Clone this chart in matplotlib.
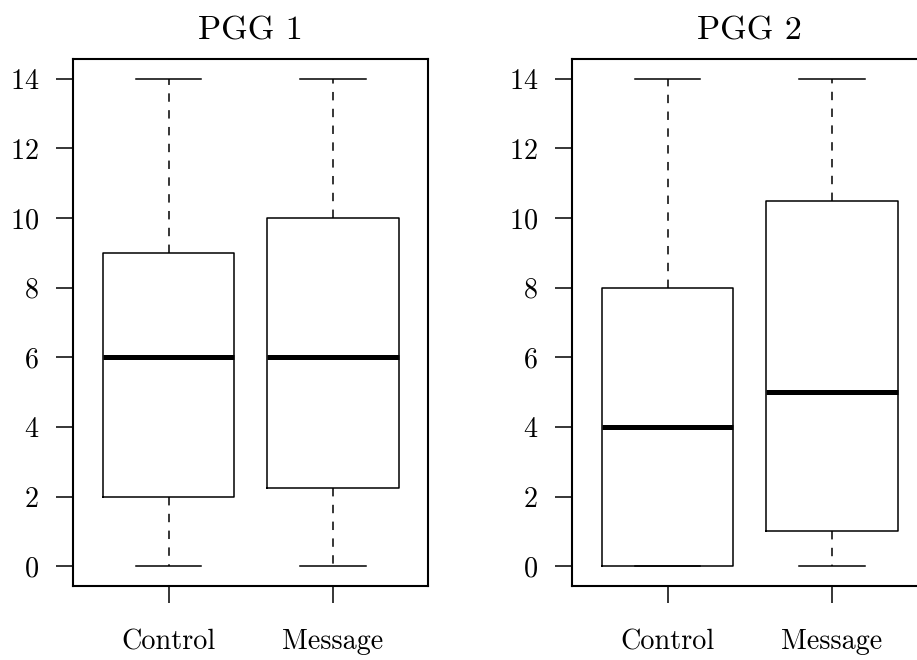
import matplotlib
matplotlib.use('Agg')
import matplotlib.pyplot as plt

plt.rcParams['font.family'] = ['cmr10', 'DejaVu Serif']
plt.rcParams['axes.formatter.use_mathtext'] = True

groups = ['Control', 'Message']
titles = ['PGG 1', 'PGG 2']

# five-number summaries
pgg1_low = [0, 0]
pgg1_q1 = [2, 2.25]
pgg1_med = [6, 6]
pgg1_q3 = [9, 10]
pgg1_high = [14, 14]

pgg2_low = [0, 0]
pgg2_q1 = [0, 1]
pgg2_med = [4, 5]
pgg2_q3 = [8, 10.5]
pgg2_high = [14, 14]

yticks = [0, 2, 4, 6, 8, 10, 12, 14]


def make_stats(low, q1, med, q3, high):
    stats = []
    for i in range(len(groups)):
        stats.append({'label': groups[i], 'whislo': low[i], 'q1': q1[i],
                      'med': med[i], 'q3': q3[i], 'whishi': high[i],
                      'fliers': []})
    return stats


def draw_panel(ax, stats, title):
    ax.bxp(stats, positions=[1, 2], widths=0.8, capwidths=0.4,
           showfliers=False,
           boxprops=dict(color='black', linewidth=1.1),
           whiskerprops=dict(color='black', linewidth=1.1, linestyle=(0, (5.5, 5.5))),
           capprops=dict(color='black', linewidth=1.1),
           medianprops=dict(color='black', linewidth=3.6, solid_capstyle='butt'))
    ax.set_xlim(0.42, 2.58)
    ax.set_ylim(-0.56, 14.56)
    ax.set_yticks(yticks)
    ax.set_xticks([1, 2])
    ax.set_xticklabels(groups)
    ax.tick_params(axis='both', length=12.2, width=1.1, labelsize=20.3)
    ax.tick_params(axis='y', pad=12.5)
    ax.tick_params(axis='x', pad=19)
    for sp in ax.spines.values():
        sp.set_linewidth(1.5)
    ax.set_title(title, fontsize=24.6, pad=14)


fig = plt.figure(figsize=(9.17, 6.6), dpi=100)
ax1 = fig.add_axes([0.0799, 0.1126, 0.3871, 0.7976])
ax2 = fig.add_axes([0.6241, 0.1126, 0.3871, 0.7976])

draw_panel(ax1, make_stats(pgg1_low, pgg1_q1, pgg1_med, pgg1_q3, pgg1_high), titles[0])
draw_panel(ax2, make_stats(pgg2_low, pgg2_q1, pgg2_med, pgg2_q3, pgg2_high), titles[1])

fig.savefig('out.png', dpi=100)
